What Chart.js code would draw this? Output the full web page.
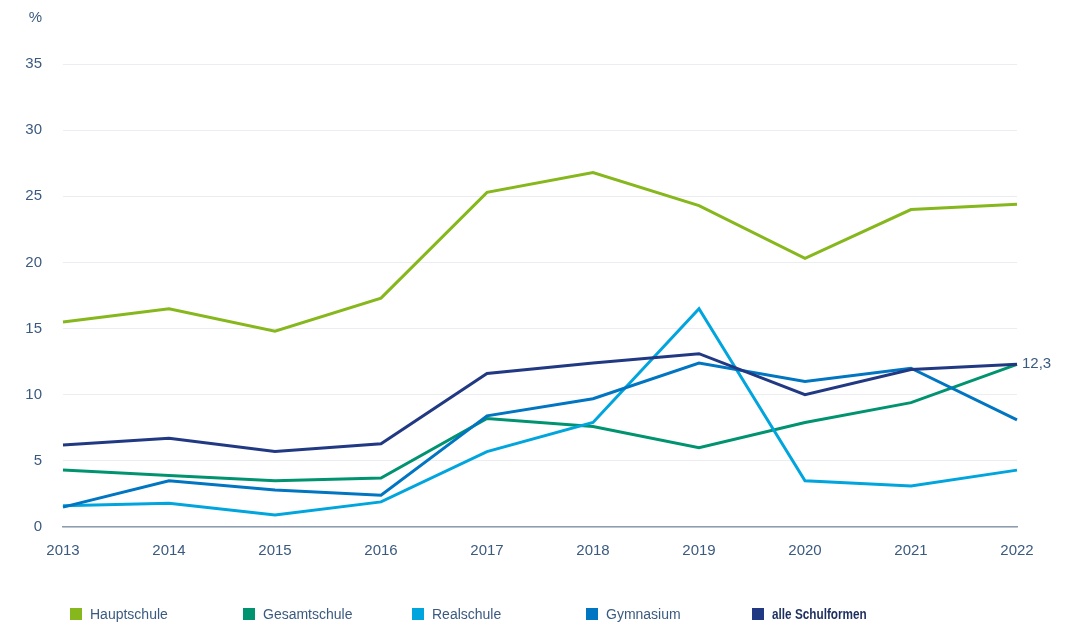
<!DOCTYPE html>
<html>
<head>
<meta charset="utf-8">
<script src="https://cdn.jsdelivr.net/npm/chart.js@4"></script>
<style>
  html, body { margin: 0; padding: 0; background: #fff; }
  #wrap { position: relative; width: 1080px; height: 632px; }
  #legend { position: absolute; top: 606px; left: 0; width: 1080px; height: 20px; font-family: "Liberation Sans", Arial, sans-serif; font-size: 14px; color: #3b5a7f; }
  .item { position: absolute; top: 0; display: flex; align-items: center; white-space: nowrap; }
  .box { width: 12px; height: 12px; margin-right: 8px; }
  .bold { display: inline-block; font-weight: bold; color: #1d2f5e; transform: scaleX(0.84); transform-origin: left center; }
</style>
</head>
<body>
<div id="wrap">
  <canvas id="c" width="1080" height="632"></canvas>
  <div id="legend"></div>
</div>
<script>
const years = ["2013","2014","2015","2016","2017","2018","2019","2020","2021","2022"];
const hauptschule = [15.5, 16.5, 14.8, 17.3, 25.3, 26.8, 24.3, 20.3, 24.0, 24.4];
const gesamtschule = [4.3, 3.9, 3.5, 3.7, 8.2, 7.6, 6.0, 7.9, 9.4, 12.3];
const realschule = [1.6, 1.8, 0.9, 1.9, 5.7, 7.9, 16.5, 3.5, 3.1, 4.3];
const gymnasium = [1.5, 3.5, 2.8, 2.4, 8.4, 9.7, 12.4, 11.0, 12.0, 8.1];
const alleSchulformen = [6.2, 6.7, 5.7, 6.3, 11.6, 12.4, 13.1, 10.0, 11.9, 12.3];
const seriesNames = ["Hauptschule", "Gesamtschule", "Realschule", "Gymnasium", "alle Schulformen"];
const seriesColors = ["#86b71c", "#00936f", "#00a5de", "#0075c1", "#213983"];
const yTicks = [0, 5, 10, 15, 20, 25, 30, 35];
const legendX = [70, 243, 412, 586, 752];
const lastLabel = "12,3";

const textColor = "#3b5a7f";
const fontFam = '"Liberation Sans", Arial, sans-serif';
const allData = [hauptschule, gesamtschule, realschule, gymnasium, alleSchulformen];

const datasets = allData.map((d, i) => ({
  label: seriesNames[i],
  data: d,
  borderColor: seriesColors[i],
  backgroundColor: seriesColors[i],
  borderWidth: 3,
  pointRadius: 0,
  tension: 0,
  clip: false,
  order: i === 4 ? 0 : 5 - i
}));

const extras = {
  id: 'extras',
  afterDraw(chart) {
    const ctx = chart.ctx;
    ctx.save();
    ctx.fillStyle = textColor;
    ctx.font = '15px ' + fontFam;
    ctx.textAlign = 'right';
    ctx.textBaseline = 'middle';
    ctx.fillText('%', 42, 18);
    const meta = chart.getDatasetMeta(4);
    const pt = meta.data[meta.data.length - 1];
    ctx.textAlign = 'left';
    ctx.fillText(lastLabel, pt.x + 5, pt.y);
    ctx.restore();
  }
};

new Chart(document.getElementById('c'), {
  type: 'line',
  data: { labels: years, datasets },
  options: {
    responsive: false,
    animation: false,
    layout: { padding: { top: 64, right: 63, bottom: 65, left: 0 } },
    plugins: { legend: { display: false }, tooltip: { enabled: false } },
    scales: {
      x: {
        type: 'category',
        offset: false,
        grid: { display: false, drawTicks: false },
        border: { display: true, color: '#8d9db0', width: 1.5 },
        ticks: { color: textColor, font: { family: fontFam, size: 15 }, padding: 15, maxRotation: 0, autoSkip: false },
        afterFit(s) { s.height = 40; }
      },
      y: {
        min: 0, max: 35,
        afterBuildTicks(s) { s.ticks = yTicks.map(v => ({ value: v })); },
        grid: { color: '#ebedf0', lineWidth: 1, drawTicks: false },
        border: { display: false },
        ticks: { color: textColor, font: { family: fontFam, size: 15 }, padding: 21 },
        afterFit(s) { s.width = 63; }
      }
    }
  },
  plugins: [extras]
});

const lg = document.getElementById('legend');
seriesNames.forEach((n, i) => {
  const it = document.createElement('div');
  it.className = 'item';
  it.style.left = legendX[i] + 'px';
  const b = document.createElement('div');
  b.className = 'box';
  b.style.background = seriesColors[i];
  const t = document.createElement('span');
  t.textContent = n;
  if (i === 4) t.className = 'bold';
  it.appendChild(b); it.appendChild(t);
  lg.appendChild(it);
});
</script>
</body>
</html>
